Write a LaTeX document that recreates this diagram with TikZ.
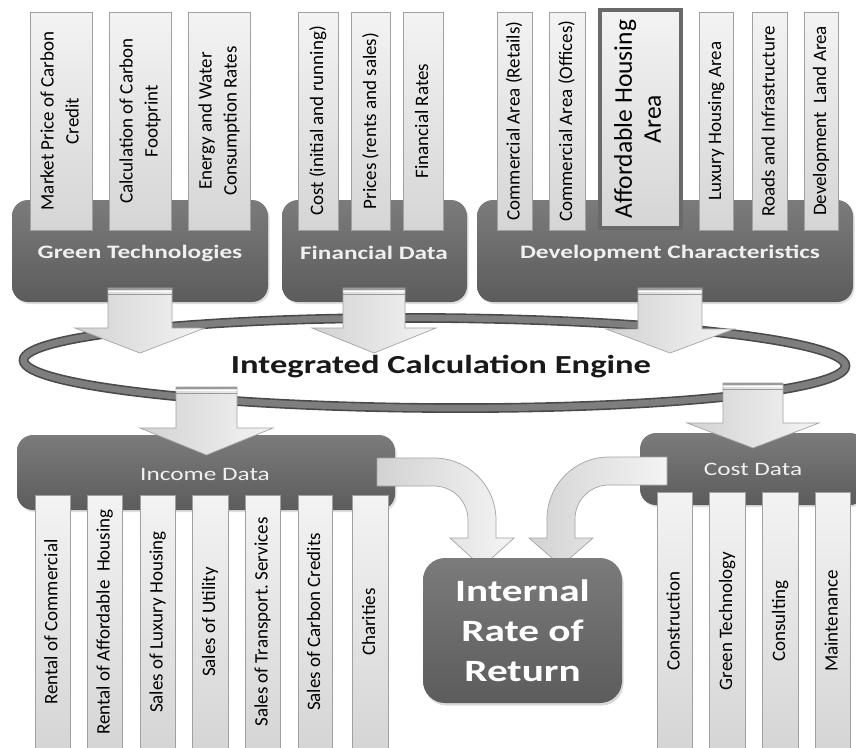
\documentclass[tikz,border=0pt]{standalone}
\usepackage{fontspec}
\setmainfont{Carlito}
\newfontfamily\widefont[FakeStretch=1.33]{Carlito}
\usetikzlibrary{shapes.geometric,shadows}
\definecolor{boxtop}{HTML}{7B7B7B}
\definecolor{boxbot}{HTML}{5C5C5C}
\definecolor{bartop}{HTML}{F3F3F3}
\definecolor{barbot}{HTML}{D5D5D5}
\definecolor{barline}{HTML}{A0A0A0}
\definecolor{arrowA}{HTML}{D2D2D2}
\definecolor{arrowB}{HTML}{F4F4F4}
\definecolor{arrowline}{HTML}{A4A4A4}
\definecolor{ringdark}{HTML}{4A4A4A}
\definecolor{ringmid}{HTML}{7E7E7E}
\definecolor{titletext}{HTML}{F0F0F0}
\definecolor{stubgray}{HTML}{9A9A9A}
\tikzset{
  groupbox/.style={rounded corners=16pt, top color=boxtop, bottom color=boxbot, draw=none,
    drop shadow={opacity=0.25, shadow xshift=1.5pt, shadow yshift=-2pt}, inner sep=0pt},
  titlelabel/.style={text=titletext, inner sep=0pt, font=\widefont\bfseries\fontsize{19}{22}\selectfont},
  plainlabel/.style={text=titletext, inner sep=0pt, font=\widefont\fontsize{19}{22}\selectfont},
  barbox/.style={draw=barline, line width=0.6pt, top color=bartop, bottom color=barbot, inner sep=0pt,
    text=black, font=\fontsize{19}{25}\selectfont},
  bigbar/.style={draw=boxtop!85!black, line width=3.5pt, top color=bartop, bottom color=barbot, inner sep=0pt,
    text=black, font=\fontsize{25.5}{29}\selectfont},
  blockarrow/.style={draw=arrowline, line width=0.7pt, left color=arrowA, right color=arrowB},
  stubdark/.style={draw=stubgray, line width=1.3pt},
  stublight/.style={draw=white, line width=1.6pt},
  ring/.style={ellipse, draw=ringdark, double=ringmid, double distance=6.5pt, line width=1.6pt, inner sep=0pt},
  irrbox/.style={rounded corners=22pt, top color=boxtop, bottom color=boxbot, draw=none,
    drop shadow={opacity=0.3, shadow xshift=1.5pt, shadow yshift=-2.5pt},
    text=white, align=center, font=\widefont\bfseries\fontsize{31}{40}\selectfont}
}
\newcommand{\blockarrow}[7]{%
  \coordinate (#1) at (#2,#3);
  \draw[blockarrow] (#2-#5,#3) -- (#2-#5,#4-#7) -- (#2-#6,#4-#7) -- (#2,#4) -- (#2+#6,#4-#7) -- (#2+#5,#4-#7) -- (#2+#5,#3) -- cycle;
  \draw[stubdark] (#2-#5,#3+1) -- (#2+#5,#3+1);
  \draw[stublight] (#2-#5,#3+3.6) -- (#2+#5,#3+3.6);
  \draw[stubdark] (#2-#5,#3+6.2) -- (#2+#5,#3+6.2);
}
\newcommand{\vtext}[1]{\rotatebox{90}{\begin{tabular}{@{}c@{}}#1\end{tabular}}}
\begin{document}
\begin{tikzpicture}[x=1pt,y=-1pt]
\useasboundingbox (0,0) rectangle (856,747);
\clip (0,0) rectangle (856,747);
\fill[white] (0,0) rectangle (856,747);

% top group boxes
\node[groupbox, minimum width=256pt, minimum height=102pt] (gt) at (140,251) {};
\node[groupbox, minimum width=185pt, minimum height=102pt] (fd) at (374.5,251) {};
\node[groupbox, minimum width=376pt, minimum height=102pt] (dc) at (665,251) {};
\node[titlelabel] (gtT) at (140,253) {Green Technologies};
\node[titlelabel] (fdT) at (374,253) {Financial Data};
\node[titlelabel] (dcT) at (670,253) {Development Characteristics};

% green technology bars
\node[barbox, minimum width=62pt, minimum height=218pt] (gt1) at (61,121) {\vtext{Market Price of Carbon\\Credit}};
\node[barbox, minimum width=62pt, minimum height=218pt] (gt2) at (140,121) {\vtext{Calculation of Carbon\\Footprint}};
\node[barbox, minimum width=62pt, minimum height=218pt] (gt3) at (219,121) {\vtext{Energy and Water\\Consumption Rates}};
% financial bars
\node[barbox, minimum width=40pt, minimum height=218pt] (fd1) at (318,121) {\vtext{Cost (initial and running)}};
\node[barbox, minimum width=39pt, minimum height=218pt] (fd2) at (371,121) {\vtext{Prices (rents and sales)}};
\node[barbox, minimum width=40pt, minimum height=218pt] (fd3) at (423,121) {\vtext{Financial Rates}};
% development bars
\node[barbox, minimum width=35pt, minimum height=218pt] (dc1) at (514.5,121) {\vtext{Commercial Area (Retails)}};
\node[barbox, minimum width=36pt, minimum height=218pt] (dc2) at (567,121) {\vtext{Commercial Area (Offices)}};
\node[bigbar, minimum width=81pt, minimum height=218pt] (dc3) at (640.5,119) {\vtext{Affordable Housing\\Area}};
\node[barbox, minimum width=34pt, minimum height=218pt] (dc4) at (716,121) {\vtext{Luxury Housing Area}};
\node[barbox, minimum width=35pt, minimum height=218pt] (dc5) at (769.5,121) {\vtext{Roads and Infrastructure}};
\node[barbox, minimum width=34pt, minimum height=218pt] (dc6) at (821,121) {\vtext{Development\ \ Land Area}};

% engine ring
\node[ring, minimum width=822pt, minimum height=90pt, rotate=-0.4] (engine) at (434.5,363) {};

% arrows into the engine
\blockarrow{a1}{140}{288}{353}{32}{65}{25}
\blockarrow{a2}{374}{288}{353}{31}{62}{25}
\blockarrow{a3}{670}{288}{353}{32}{64}{24}

\node[inner sep=0pt, text=black!90, font=\widefont\bfseries\fontsize{26}{30}\selectfont] (engineT) at (441,367) {Integrated Calculation Engine};

% bottom boxes
\node[groupbox, minimum width=378pt, minimum height=75pt] (inc) at (206,472.5) {};
\node[groupbox, minimum width=226pt, minimum height=72pt] (cst) at (753,469) {};
\node[plainlabel] (incT) at (205,474) {Income Data};
\node[plainlabel] (cstT) at (753,469) {Cost Data};

% arrows out of the engine
\blockarrow{a4}{206.5}{387}{455}{30.5}{66.5}{27}
\blockarrow{a5}{753}{383}{448}{30}{66}{25}

% income bars
\node[barbox, minimum width=35pt, minimum height=254pt] (i1) at (52.5,622) {\vtext{Rental of Commercial}};
\node[barbox, minimum width=35pt, minimum height=254pt] (i2) at (104.5,622) {\vtext{Rental of Affordable\ \ Housing}};
\node[barbox, minimum width=35pt, minimum height=254pt] (i3) at (157.5,622) {\vtext{Sales of Luxury Housing}};
\node[barbox, minimum width=36pt, minimum height=254pt] (i4) at (210,622) {\vtext{Sales of Utility}};
\node[barbox, minimum width=35pt, minimum height=254pt] (i5) at (262.5,622) {\vtext{Sales of Transport.\ Services}};
\node[barbox, minimum width=34pt, minimum height=254pt] (i6) at (315,622) {\vtext{Sales of Carbon Credits}};
\node[barbox, minimum width=36pt, minimum height=254pt] (i7) at (370,622) {\vtext{Charities}};
% cost bars
\node[barbox, minimum width=35pt, minimum height=258pt] (c1) at (674.5,621) {\vtext{Construction}};
\node[barbox, minimum width=36pt, minimum height=258pt] (c2) at (727,621) {\vtext{Green Technology}};
\node[barbox, minimum width=36pt, minimum height=258pt] (c3) at (780,621) {\vtext{Consulting}};
\node[barbox, minimum width=35pt, minimum height=258pt] (c4) at (832.5,621) {\vtext{Maintenance}};

% curved arrows into IRR
\draw[blockarrow] (377,458) -- (434,458) arc(-90:0:62) -- (496,538) -- (514,538) -- (482,567)
  -- (450,538) -- (468,538) -- (468,520) arc(0:-90:34) -- (377,486) -- cycle;
\draw[blockarrow] (667,457) -- (609,457) arc(-90:-180:62) -- (547,538) -- (529,538) -- (561,566)
  -- (593,538) -- (575,538) -- (575,519) arc(-180:-90:34) -- (667,485) -- cycle;

% IRR box
\node[irrbox, minimum width=199pt, minimum height=145pt] (irr) at (522.5,630.5) {Internal\\Rate of\\Return};
\end{tikzpicture}
\end{document}
